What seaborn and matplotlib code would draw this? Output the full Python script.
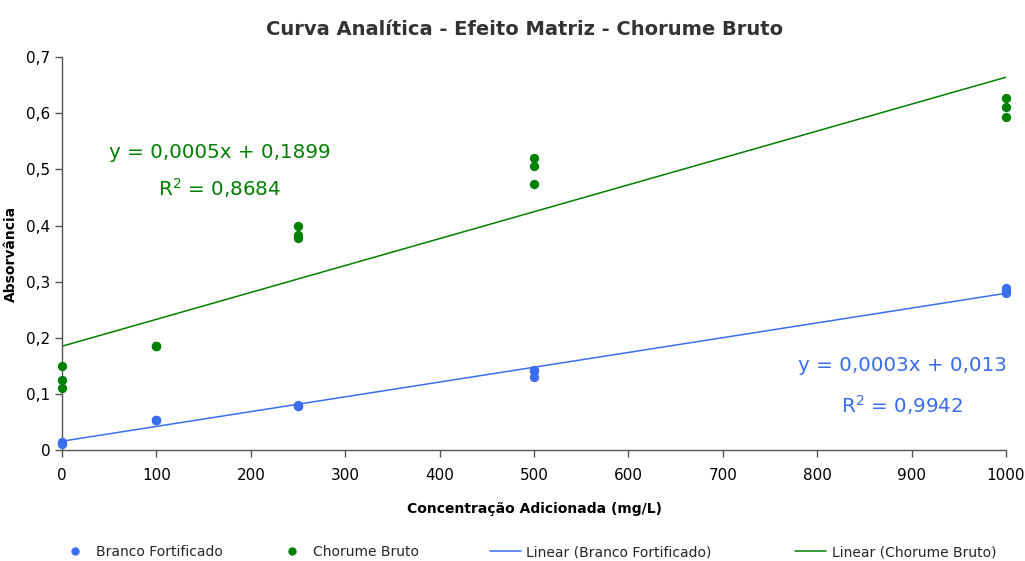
import numpy as np
import pandas as pd
import matplotlib
matplotlib.use("Agg")
import matplotlib.pyplot as plt
import seaborn as sns
from matplotlib.lines import Line2D
from matplotlib.ticker import FuncFormatter

# ---- data ----
conc = [0, 0, 0, 100, 100, 100, 250, 250, 250, 500, 500, 500, 1000, 1000, 1000]
branco = [0.015, 0.012, 0.010, 0.053, 0.053, 0.053, 0.080, 0.079, 0.078,
          0.1425, 0.140, 0.130, 0.288, 0.284, 0.279]
chorume = [0.150, 0.125, 0.110, 0.186, 0.186, 0.185, 0.399, 0.383, 0.377,
           0.520, 0.506, 0.474, 0.628, 0.611, 0.594]
xticks = [0, 100, 200, 300, 400, 500, 600, 700, 800, 900, 1000]
yticks = [0, 0.1, 0.2, 0.3, 0.4, 0.5, 0.6, 0.7]
title = "Curva Analítica - Efeito Matriz - Chorume Bruto"
xlabel = "Concentração Adicionada (mg/L)"
ylabel = "Absorvância"
eq_green = ["y = 0,0005x + 0,1899", "R$^2$ = 0,8684"]
eq_blue = ["y = 0,0003x + 0,013", "R$^2$ = 0,9942"]
legend_labels = ["Branco Fortificado", "Chorume Bruto", "Linear (Branco Fortificado)",
                 "Linear (Chorume Bruto)"]

BLUE = "#3a6df0"
GREEN = "#008000"

sns.set_style("white")
plt.rcParams['font.family'] = ['DejaVu Sans']

df = pd.DataFrame({"x": conc, "branco": branco, "chorume": chorume})

fig = plt.figure(figsize=(10.25, 5.61), dpi=100)
ax = fig.add_axes([0.0605, 0.198, 0.921, 0.700])

sns.regplot(data=df, x="x", y="branco", ax=ax, scatter=False, ci=None,
            line_kws=dict(color=BLUE, lw=1.1))
sns.regplot(data=df, x="x", y="chorume", ax=ax, scatter=False, ci=None,
            line_kws=dict(color=GREEN, lw=1.1))
sns.scatterplot(data=df, x="x", y="branco", ax=ax, color=BLUE, s=45,
                edgecolor=BLUE, linewidth=0, zorder=3, clip_on=False)
sns.scatterplot(data=df, x="x", y="chorume", ax=ax, color=GREEN, s=45,
                edgecolor=GREEN, linewidth=0, zorder=3, clip_on=False)

ax.set_xlim(0, 1000)
ax.set_ylim(0, 0.7)
ax.set_xticks(xticks)
ax.set_yticks(yticks)
ax.yaxis.set_major_formatter(FuncFormatter(lambda v, p: ("%g" % round(v, 2)).replace(".", ",")))
ax.tick_params(axis="both", labelsize=11, length=5, width=1, color="#555555",
               labelcolor="black", direction="out", bottom=True, left=True)
ax.tick_params(axis="x", pad=8)
for s in ["top", "right"]:
    ax.spines[s].set_visible(False)
for s in ["left", "bottom"]:
    ax.spines[s].set_color("#555555")
    ax.spines[s].set_linewidth(1)

ax.set_xlabel(xlabel, fontsize=10, fontweight="bold", labelpad=14, color="black")
ax.set_ylabel(ylabel, fontsize=10, fontweight="bold", labelpad=6, color="black")
fig.text(0.512, 0.947, title, ha="center", va="center", fontsize=14,
         fontweight="bold", color="#333333")

ax.text(167, 0.531, eq_green[0], color=GREEN, fontsize=14.3, ha="center", va="center")
ax.text(167, 0.467, eq_green[1], color=GREEN, fontsize=14.3, ha="center", va="center")
ax.text(890, 0.150, eq_blue[0], color=BLUE, fontsize=14.3, ha="center", va="center")
ax.text(890, 0.0795, eq_blue[1], color=BLUE, fontsize=14.3, ha="center", va="center")

handles = [
    Line2D([], [], ls="none", marker="o", color=BLUE, markersize=5),
    Line2D([], [], ls="none", marker="o", color=GREEN, markersize=5),
    Line2D([], [], color=BLUE, lw=1.1),
    Line2D([], [], color=GREEN, lw=1.1),
]
starts = [0.058, 0.270, 0.478, 0.776]
for h, lab, x0 in zip(handles, legend_labels, starts):
    fig.legend([h], [lab], loc="center left", bbox_to_anchor=(x0, 0.016),
               frameon=False, fontsize=10, handlelength=2.2, handletextpad=0.4,
               borderpad=0, borderaxespad=0)

fig.savefig("out.png", dpi=100)
